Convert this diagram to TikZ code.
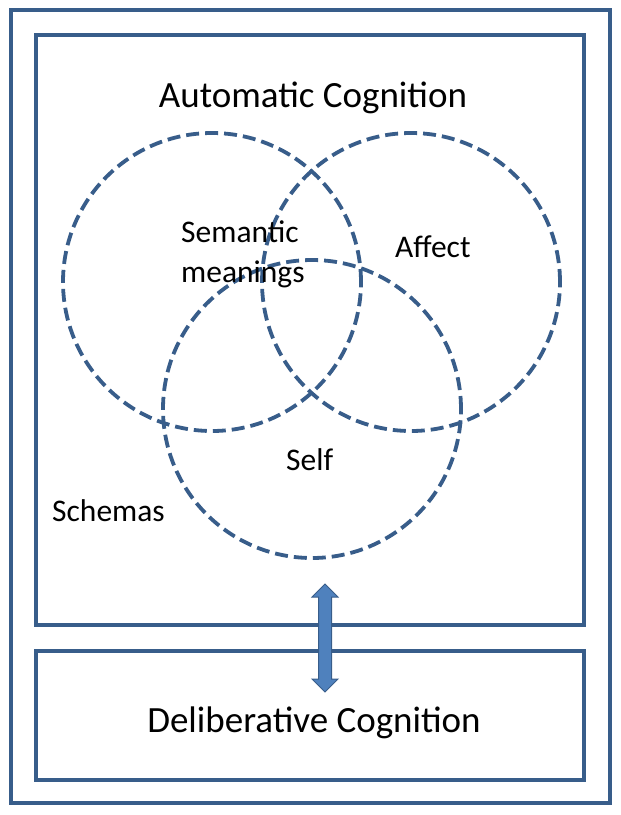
\documentclass[tikz,border=0pt]{standalone}
\usepackage{fontspec}
\setmainfont{Carlito}
\usepackage{tikz}
\usetikzlibrary{shapes.arrows,positioning,calc}
\definecolor{frameblue}{RGB}{56,93,138}
\definecolor{arrowblue}{RGB}{79,129,189}
\tikzset{
  every picture/.style = {
    x = 1pt,
    y = -1pt,
  }
  ,
  frame/.style = {
    rectangle,
    draw = frameblue,
    line width = 4pt,
    inner sep = 0pt
  }
  , % dashed sets
  set/.style = {
    circle,
    draw = frameblue,
    line width = 3.8pt,
    dash pattern = on 13pt off 6pt,
    inner sep = 0pt,
    minimum size = 298pt
  }
  , % titles of the boxes
  label-title/.style = {
    font = \fontsize{37}{44}\selectfont,
    inner sep = 0pt
  }
  , % labels of the sets
  label-set/.style = {
    font = \fontsize{31.5}{40}\selectfont,
    inner sep = 0pt,
    align = left
  }
}
\begin{document}
\begin{tikzpicture}
\useasboundingbox (0,0) rectangle (621,815);
\node[frame, minimum width = 599pt, minimum height = 793pt] (outer) at (310.5,406.5) {};
\node[frame, minimum width = 548pt, minimum height = 590pt] (auto) at (310,330) {};
\node[frame, minimum width = 548pt, minimum height = 129pt] (delib) at (310,715.5) {};
\node[set] (semantic) at (212,282) {};
\node[set] (affect) at (411,282) {};
\node[set] (self) at (312,409) {};
\node[label-title, anchor = base] (autotitle) at (313,107) {Automatic Cognition};
\node[label-title, anchor = base] (delibtitle) at (314,732) {Deliberative Cognition};
\node[label-set, anchor = base west] (semtext) at (181,282) {Semantic\\meanings};
\node[label-set, anchor = base west] (afftext) at (395,257) {Affect};
\node[label-set, anchor = base west] (selftext) at (286,470) {Self};
\node[label-set, anchor = base west] (schtext) at (52,521) {Schemas};
\node[double arrow, rotate = 90, draw = frameblue, fill = arrowblue, line width = 1pt,
  inner sep = 6pt, minimum height = 108pt, double arrow head extend = 6.5pt]
  (link) at ($(auto.south)!0.5!(delib.north) + (15,0)$) {};
\end{tikzpicture}
\end{document}
